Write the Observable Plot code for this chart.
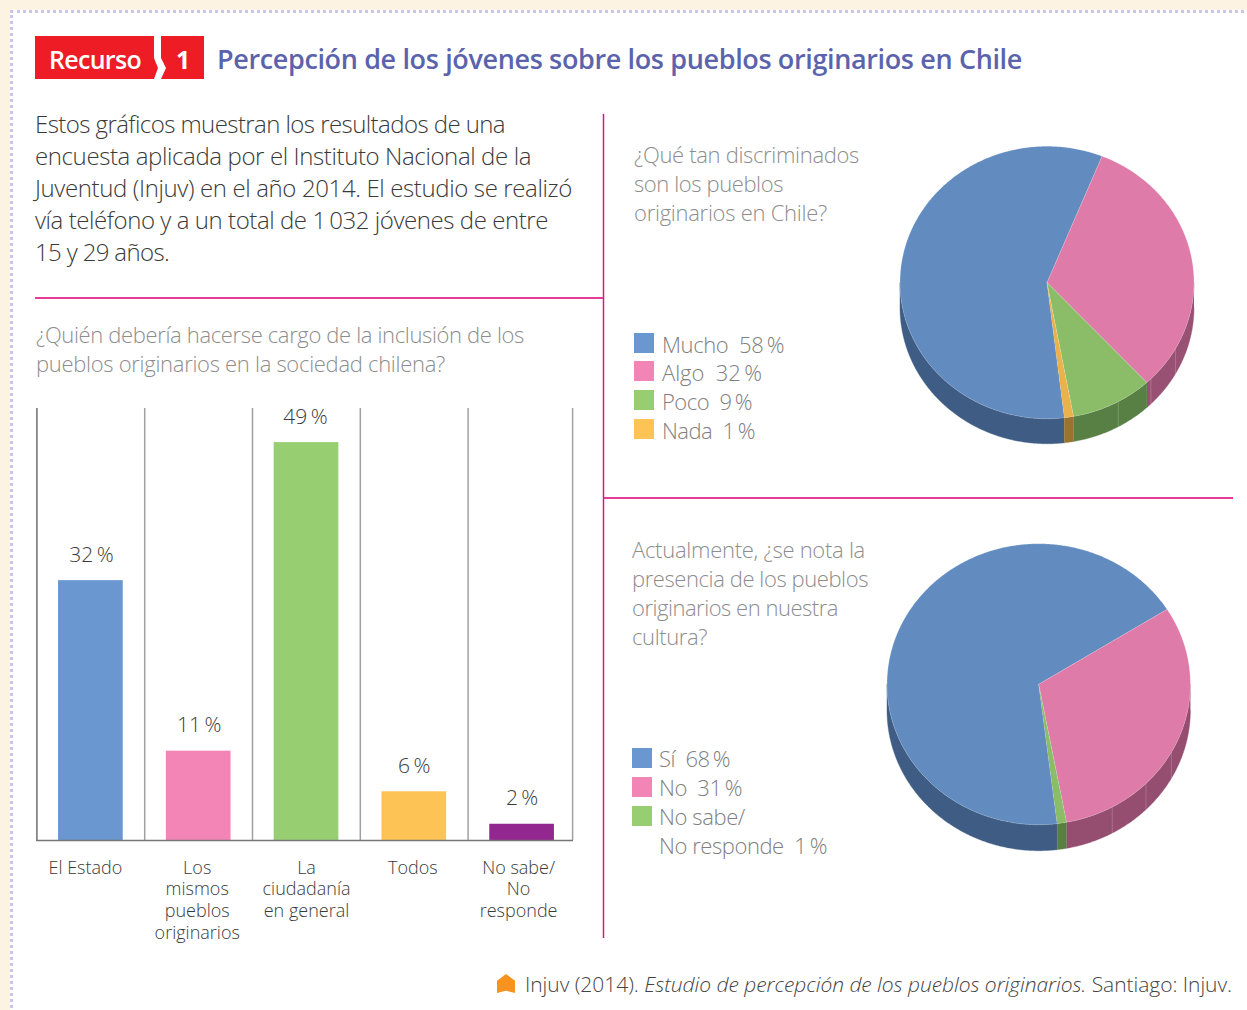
<!DOCTYPE html>
<html lang="es">
<head>
<meta charset="utf-8">
<script src="https://cdn.jsdelivr.net/npm/d3@7"></script>
<script src="https://cdn.jsdelivr.net/npm/@observablehq/plot@0.6"></script>
<style>
html,body{margin:0;padding:0;background:#fdf3e3;}
#page{position:relative;width:1247px;height:1010px;overflow:hidden;background:#fdf3e3;font-family:"Open Sans",sans-serif;}
#panel{position:absolute;left:10px;top:10px;width:1300px;height:1100px;background:#fff;border:3px dotted #c9c7e8;box-sizing:border-box;}
.t{position:absolute;white-space:pre;line-height:40px;height:40px;}
.abs{position:absolute;}
.abs svg{display:block;overflow:visible;}
</style>
</head>
<body>
<div id="page"><div id="panel"></div></div>
<script>
// ---- data ----
const barCategories = ["El Estado", "Los\nmismos\npueblos\noriginarios", "La\nciudadanía\nen general", "Todos", "No sabe/\nNo\nresponde"];
const barValues = [32, 11, 49, 6, 2];
const barColors = ["#6a97cf", "#f285b5", "#97ce72", "#fec355", "#92278f"];

const pie1Labels = ["Mucho", "Algo", "Poco", "Nada"];
const pie1Values = [58, 32, 9, 1];
const pie2Labels = ["Sí", "No", "No sabe/\nNo responde"];
const pie2Values = [68, 31, 1];

const legendColors = ["#6a97cf", "#f285b5", "#97ce72", "#fec355"];
const pie1Top = ["#628cc0", "#df7ba8", "#8bbd69", "#eab24a"];
const pie1Wall = ["#3f5d84", "#985073", "#587f44", "#98742e"];
const pie2Top = ["#628cc0", "#df7ba8", "#8bbd69"];
const pie2Wall = ["#3f5d84", "#954d70", "#587f44"];
const wallSeams = [119, 135, 151];

const titleText = "Percepción de los jóvenes sobre los pueblos originarios en Chile";
const introLines = [
  "Estos gráficos muestran los resultados de una",
  "encuesta aplicada por el Instituto Nacional de la",
  "Juventud (Injuv) en el año 2014. El estudio se realizó",
  "vía teléfono y a un total de 1\u2009032 jóvenes de entre",
  "15 y 29 años."
];
const q1Lines = ["¿Quién debería hacerse cargo de la inclusión de los", "pueblos originarios en la sociedad chilena?"];
const q2Lines = ["¿Qué tan discriminados", "son los pueblos", "originarios en Chile?"];
const q3Lines = ["Actualmente, ¿se nota la", "presencia de los pueblos", "originarios en nuestra", "cultura?"];

// ---- helpers ----
const page = document.getElementById("page");
function line(html, x, y, w, size, color, weight = 300) {
  const el = document.createElement("div");
  el.className = "t";
  el.innerHTML = html;
  el.style.cssText = `left:${x}px;top:${y - 21}px;font-size:${size}px;color:${color};font-weight:${weight};`;
  page.appendChild(el);
  const cur = el.getBoundingClientRect().width;
  const n = el.textContent.length;
  el.style.letterSpacing = ((w - cur) / n).toFixed(3) + "px";
  return el;
}
function box(x, y, w, h, bg, extra = "") {
  const el = document.createElement("div");
  el.style.cssText = `position:absolute;left:${x}px;top:${y}px;width:${w}px;height:${h}px;background:${bg};${extra}`;
  page.appendChild(el);
  return el;
}
function place(svg, x, y) {
  const d = document.createElement("div");
  d.className = "abs";
  d.style.left = x + "px";
  d.style.top = y + "px";
  d.appendChild(svg);
  page.appendChild(d);
}

// ---- header ----
box(35, 36, 119, 43, "#ee1c25", "width:123px;clip-path:polygon(0 0,119px 0,119px 22px,123px 32px,119px 43px,0 43px);");
box(161, 36, 43, 43, "#ee1c25", "clip-path:polygon(0 0,43px 0,43px 43px,0 43px,5px 32px,0 22px);");
line("Recurso", 49, 60, 92, 25, "#fff", 600);
line("1", 176, 60, 13, 25, "#fff", 700);
line(titleText, 217, 60, 805, 27, "#5b63ac", 600);

// ---- dividers ----
const ruleCore = "#d0187f", ruleHalo = "#f9c6e1", ruleFlat = "#e63b98";
box(602, 114, 3, 824, `linear-gradient(to right,${ruleHalo} 0 1px,${ruleCore} 1px 2px,${ruleHalo} 2px 3px)`);
box(35, 296.5, 568, 2, ruleFlat);
box(604, 496.5, 629, 2, ruleFlat);

// ---- text ----
const introW = [470, 496, 537, 513, 134];
introLines.forEach((s, i) => line(s, 35, 125 + 32 * i, introW[i], 24, "#3a3a3a"));
const qc = "#8d8d8d";
[488, 409].forEach((w, i) => line(q1Lines[i], 36, 335 + 29 * i, w, 22, qc));
[225, 149, 193].forEach((w, i) => line(q2Lines[i], 634, 155 + 29 * i, w, 22, qc));
[233, 236, 206, 75].forEach((w, i) => line(q3Lines[i], 632, 550 + 29 * i, w, 22, qc));

// ---- legends ----
const lc = "#808080";
const pct = (v) => `${v}\u2009%`;
const leg1Y = [345, 373, 402, 431], leg1W = [122, 100, 90, 93];
pie1Labels.forEach((s, i) => {
  box(634, leg1Y[i] - 12, 20, 20, legendColors[i]);
  line(`${s}  ${pct(pie1Values[i])}`, 662, leg1Y[i], leg1W[i], 22, lc);
});
const leg2Y = [759, 788, 817], leg2W = [71, 83, 0];
pie2Labels.forEach((s, i) => {
  box(632, leg2Y[i] - 11, 20, 20, legendColors[i]);
  if (i < 2) line(`${s}  ${pct(pie2Values[i])}`, 659, leg2Y[i], leg2W[i], 22, lc);
});
const [lab3a, lab3b] = pie2Labels[2].split("\n");
line(lab3a, 659, 817, 86, 22, lc);
line(`${lab3b}  ${pct(pie2Values[2])}`, 659, 846, 168, 22, lc);

// ---- footer ----
box(497, 974, 18, 19, "#f7931e", "clip-path:polygon(50% 0,100% 35%,100% 100%,50% 88%,0 100%,0 35%);");
line("Injuv (2014). <i>Estudio de percepción de los pueblos originarios.</i> Santiago: Injuv.", 525, 985, 707, 21, "#444");

// ---- bar chart ----
const barData = barCategories.map((c, i) => ({c, v: barValues[i], col: barColors[i]}));
const labelDx = [-5.5, -1.5, 0, -1.5, -3.5];
const valueDx = [0.5, 0.5, -1, 0, 0];
const fontFamily = '"Open Sans",sans-serif';
place(Plot.plot({
  width: 620, height: 560,
  marginTop: 0, marginBottom: 0, marginLeft: 36, marginRight: 47,
  style: {background: "transparent", fontFamily, overflow: "visible"},
  x: {type: "band", domain: barCategories, range: [36.5, 575.5], paddingInner: 0.4, paddingOuter: 0.2, align: 0.5, axis: null, round: false},
  y: {domain: [0, 53.2], range: [440, 8], axis: null},
  color: {type: "identity"},
  marks: [
    Plot.ruleX(barCategories.slice(1), {x: d => d, dx: -54, y1: 0, y2: 53.2, stroke: "#a0a0a0", strokeWidth: 1.5}),
    Plot.ruleX(barCategories.slice(4), {x: d => d, dx: 50.5, y1: 0, y2: 53.2, stroke: "#a0a0a0", strokeWidth: 1.5}),
    Plot.ruleX(barCategories.slice(0, 1), {x: d => d, dx: -54, y1: 0, y2: 53.2, stroke: "#777", strokeWidth: 1.6}),
    Plot.barY(barData, {x: "c", y: "v", fill: "col"}),
    Plot.ruleY([0], {stroke: "#777", strokeWidth: 1.6}),
    ...barData.map((d, i) => Plot.text([d], {
      x: "c", y: "v", text: e => pct(e.v), dy: -25.5, dx: valueDx[i],
      fontSize: 21, fontWeight: 300, fill: "#3a3a3a"
    })),
    ...barData.map((d, i) => Plot.text([d], {
      x: "c", y: () => 0, text: "c", dy: 18, dx: labelDx[i], lineAnchor: "top", lineHeight: 1.2,
      fontSize: 18, fontWeight: 300, fill: "#3a3a3a"
    }))
  ]
}), 0, 400);

// ---- pies ----
function piePlot({values, top, wall, start, depth, W, H, cx, cy, rx, ry}) {
  const topPts = [], wallPts = [];
  let a = start;
  values.forEach((v, i) => {
    const a0 = a, a1 = a + v * 3.6;
    a = a1;
    topPts.push({key: i, x: 0, y: 0, fill: top[i]});
    for (const t of d3.range(a0, a1, 0.5).concat(a1)) {
      const r = t * Math.PI / 180;
      topPts.push({key: i, x: Math.sin(r), y: Math.cos(r), fill: top[i]});
    }
    // the wall shows only on the front half of the disc
    [[90, 270], [450, 630]].forEach(([lo, hi], k) => {
      const w0 = Math.max(a0, lo), w1 = Math.min(a1, hi);
      if (w1 > w0) {
        const arc = d3.range(w0, w1, 0.5).concat(w1).map(t => t * Math.PI / 180);
        const key = `${i}-${k}`;
        for (const r of arc) wallPts.push({key, x: Math.sin(r), y: Math.cos(r), fill: wall[i]});
        for (const r of arc.slice().reverse()) wallPts.push({key, x: Math.sin(r), y: Math.cos(r) - depth, fill: wall[i]});
      }
    });
  });
  const seam = wallSeams.map(t => ({x: Math.sin(t * Math.PI / 180), y: Math.cos(t * Math.PI / 180)}));
  return Plot.plot({
    width: W, height: H, margin: 0,
    style: {background: "transparent", overflow: "visible"},
    x: {domain: [-1, 1], range: [cx - rx, cx + rx], axis: null},
    y: {domain: [-1, 1], range: [cy + ry, cy - ry], axis: null},
    color: {type: "identity"},
    marks: [
      Plot.line(wallPts, {x: "x", y: "y", z: "key", fill: "fill", stroke: "fill", strokeWidth: 0.4}),
      Plot.link(seam, {x1: "x", x2: "x", y1: "y", y2: d => d.y - depth, stroke: "#fff", strokeOpacity: 0.25, strokeWidth: 0.8}),
      Plot.line(topPts, {x: "x", y: "y", z: "key", fill: "fill", stroke: "#fff", strokeOpacity: 0.3, strokeWidth: 0.6})
    ]
  });
}
place(piePlot({values: pie1Values, top: pie1Top, wall: pie1Wall, start: 173.2, depth: 25 / 136, W: 320, H: 320, cx: 156.5, cy: 147, rx: 147, ry: 136.2}), 890, 135);
place(piePlot({values: pie2Values, top: pie2Top, wall: pie2Wall, start: 173, depth: 26 / 140.5, W: 330, H: 330, cx: 158.2, cy: 148.7, rx: 151.7, ry: 140.5}), 880, 535);
</script>
</body>
</html>
